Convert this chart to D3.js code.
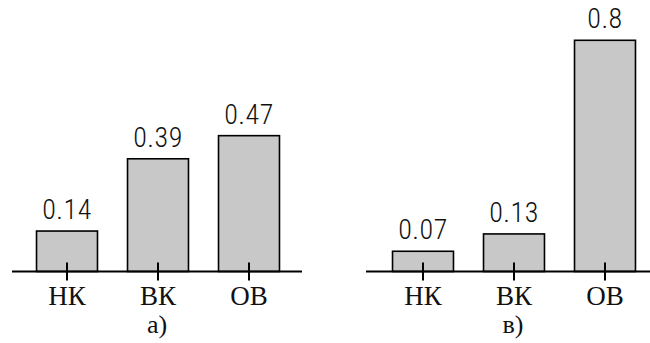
<!DOCTYPE html>
<html><head><meta charset="utf-8">
<script src="https://cdn.jsdelivr.net/npm/d3@7"></script>
<style>body{margin:0;background:#fff}svg{display:block}</style>
</head><body>
<svg id="c" width="650" height="343"></svg>
<script>
const categories = ["НК", "ВК", "ОВ"];
const valuesA = [0.14, 0.39, 0.47];
const valuesB = [0.07, 0.13, 0.8];
const labelsA = ["0.14", "0.39", "0.47"];
const labelsB = ["0.07", "0.13", "0.8"];
const panelTitles = ["а)", "в)"];

const svg = d3.select("#c");
const baseY = 271.5;
const y = d3.scaleLinear().domain([0, 1]).range([baseY, baseY - 289]);
const serif = "'Liberation Serif', 'DejaVu Serif', serif";
const sans = "'Roboto Condensed', 'Roboto', sans-serif";

const panels = [
  {values: valuesA, labels: labelsA, title: panelTitles[0], range: [21.5, 294.5], line: [12, 302]},
  {values: valuesB, labels: labelsB, title: panelTitles[1], range: [377.5, 650.5], line: [366, 650]}
];

panels.forEach(p => {
  const x = d3.scaleBand().domain(categories).range(p.range).paddingInner(0.33).paddingOuter(0.165);
  const g = svg.append("g");
  g.selectAll("rect").data(categories).join("rect")
    .attr("x", d => x(d))
    .attr("width", x.bandwidth())
    .attr("y", (d, i) => y(p.values[i]))
    .attr("height", (d, i) => baseY - y(p.values[i]))
    .attr("fill", "#c8c8c8").attr("stroke", "#000").attr("stroke-width", 1.6);
  g.selectAll("text.v").data(categories).join("text").attr("class", "v")
    .attr("x", d => x(d) + x.bandwidth() / 2)
    .attr("y", (d, i) => y(p.values[i]) - 12)
    .attr("text-anchor", "middle")
    .style("font-family", sans).style("font-weight", 300)
    .style("font-size", "28px").style("letter-spacing", "0.5px").attr("fill", "#111")
    .text((d, i) => p.labels[i]);
  g.append("line").attr("x1", p.line[0]).attr("x2", p.line[1])
    .attr("y1", baseY).attr("y2", baseY).attr("stroke", "#000").attr("stroke-width", 2);
  const ax = g.append("g").attr("transform", `translate(0,${baseY})`)
    .call(d3.axisBottom(x).tickSizeInner(9).tickSizeOuter(0).tickPadding(0));
  ax.select(".domain").remove();
  ax.attr("font-family", null).attr("font-size", null);
  ax.selectAll(".tick line").attr("y1", -9).attr("stroke", "#000").attr("stroke-width", 2);
  ax.selectAll(".tick text").attr("y", 33.5).attr("dy", 0)
    .style("font-family", serif).style("font-size", "27px").attr("fill", "#111");
  const mid = x(categories[1]) + x.bandwidth() / 2;
  g.append("text").attr("x", mid - 1).attr("y", 333).attr("text-anchor", "middle")
    .style("font-family", serif).style("font-size", "26px").attr("fill", "#111").text(p.title);
});
</script>
</body></html>
